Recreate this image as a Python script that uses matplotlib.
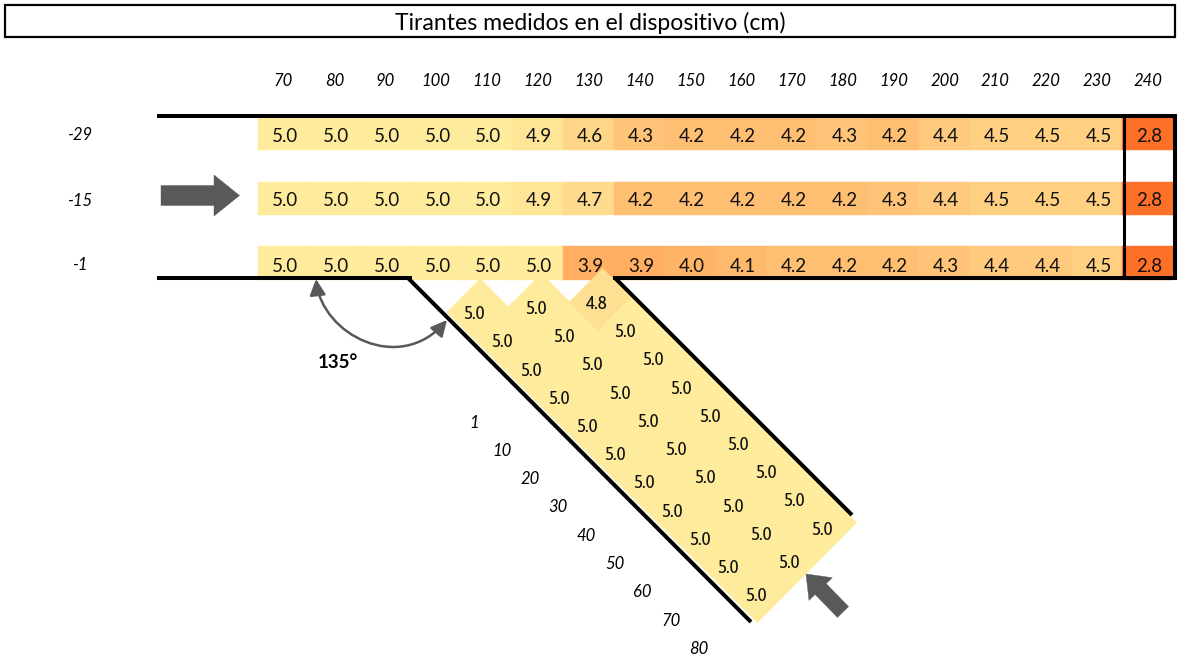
import matplotlib
matplotlib.use("Agg")
import matplotlib.pyplot as plt
from matplotlib.colors import LinearSegmentedColormap, Normalize
from matplotlib.patches import FancyArrow, FancyArrowPatch, Polygon, Rectangle
from matplotlib.path import Path
from numpy import array

plt.rcParams['font.family'] = ['Lato', 'DejaVu Sans']

dist_labels = [70, 80, 90, 100, 110, 120, 130, 140, 150, 160, 170, 180, 190, 200, 210, 220, 230, 240]
row_labels = [-29, -15, -1]
row_29 = [5.0, 5.0, 5.0, 5.0, 5.0, 4.9, 4.6, 4.3, 4.2, 4.2, 4.2, 4.3, 4.2, 4.4, 4.5, 4.5, 4.5, 2.8]
row_15 = [5.0, 5.0, 5.0, 5.0, 5.0, 4.9, 4.7, 4.2, 4.2, 4.2, 4.2, 4.2, 4.3, 4.4, 4.5, 4.5, 4.5, 2.8]
row_1 = [5.0, 5.0, 5.0, 5.0, 5.0, 5.0, 3.9, 3.9, 4.0, 4.1, 4.2, 4.2, 4.2, 4.3, 4.4, 4.4, 4.5, 2.8]

branch_labels = [1, 10, 20, 30, 40, 50, 60, 70, 80]
branch_a = [5.0, 5.0, 5.0, 5.0, 5.0, 5.0, 5.0, 5.0, 5.0, 5.0, 5.0]
branch_b = [5.0, 5.0, 5.0, 5.0, 5.0, 5.0, 5.0, 5.0, 5.0, 5.0]
branch_c = [4.8, 5.0, 5.0, 5.0, 5.0, 5.0, 5.0, 5.0, 5.0]

# everything is laid out in picture pixels
cell_w = 50.85
first_x = 259.5
row_tops = [118, 181.5, 246]
row_h = [32, 33.5, 34]
row_text_y = [136, 201, 266]
along = array([14.1, 14.1])
across = array([16.5, -16.65])
branch_start = [(477.8, 309.7), (539, 304.6), (600.2, 299.5)]

wall = 'black'
grey = '#595959'
cmap = LinearSegmentedColormap.from_list('tirante', ['#FF7128', '#FFEB9C'])
norm = Normalize(2.8, 5.0)

fig = plt.figure(figsize=(11.8, 6.6), dpi=100)
ax = fig.add_axes([0, 0, 1, 1])
ax.set_xlim(0, 1180)
ax.set_ylim(660, 0)
ax.axis('off')

# title box
ax.add_patch(Rectangle((4.5, 4.5), 1170.5, 32.5, fc='white', ec='black', lw=1.6))
ax.text(590, 23, 'Tirantes medidos en el dispositivo (cm)', ha='center', va='center', fontsize=16.6)

for i, d in enumerate(dist_labels):
    ax.text(first_x + 24 + cell_w * i, 81.5, str(d), ha='center', va='center', fontsize=12, style='italic')

for top, h, ty, label, values in zip(row_tops, row_h, row_text_y, row_labels, [row_29, row_15, row_1]):
    ax.text(80, ty - 0.5, str(label), ha='center', va='center', fontsize=12, style='italic')
    for i, v in enumerate(values):
        c = cmap(norm(v))
        ax.add_patch(Rectangle((first_x - 1.5 + cell_w * i, top), cell_w, h, fc=c, ec=c, lw=0.3, zorder=1))
        ax.text(first_x + 25.5 + cell_w * i, ty, '%.1f' % v, ha='center', va='center',
                fontsize=13.5, color='#111111', zorder=5)

# inclined branch, cells turned 45 degrees
for start, values in zip(branch_start, [branch_a, branch_b, branch_c]):
    for k, v in enumerate(values):
        centre = array(start) + 2 * along * k
        corners = [centre - along - across, centre - along + across, centre + along + across, centre + along - across]
        c = cmap(norm(v))
        ax.add_patch(Polygon(corners, closed=True, fc=c, ec=c, lw=0.6, zorder=2 + (v != 5.0)))
        ax.text(centre[0] - 3.5, centre[1] + 4.5, '%.1f' % v, ha='center', va='center', fontsize=14,
                family=['Asap Condensed', 'Lato'], color='#111111', zorder=5)

for k, d in enumerate(branch_labels):
    ax.text(474 + 28.1 * k, 422.5 + 28.3 * k, str(d), ha='center', va='center', fontsize=12, style='italic')

# walls
lw = 2.9
ax.plot([157, 1176], [116, 116], color=wall, lw=lw, solid_capstyle='butt', zorder=4)
ax.plot([157, 412], [278, 278], color=wall, lw=lw, solid_capstyle='butt', zorder=4)
ax.plot([613, 1176], [278, 278], color=wall, lw=lw, solid_capstyle='butt', zorder=4)
ax.plot([1175, 1175], [114, 280], color=wall, lw=lw, solid_capstyle='butt', zorder=4)
ax.plot([1123.5, 1123.5], [116, 278], color=wall, lw=2.2, solid_capstyle='butt', zorder=4)
ax.plot([408, 751], [278, 622], color=wall, lw=lw, solid_capstyle='butt', zorder=4)
ax.plot([615, 852], [278, 515], color=wall, lw=lw, solid_capstyle='butt', zorder=4)

# flow arrows
ax.add_patch(FancyArrow(161, 195.5, 78.5, 0, width=20, head_width=41, head_length=25.5,
                        length_includes_head=True, fc=grey, ec=grey, lw=0.3, zorder=4))
ax.add_patch(FancyArrow(843, 612, -37, -38, width=15.5, head_width=32.5, head_length=21,
                        length_includes_head=True, fc=grey, ec=grey, lw=0.3, zorder=4))

# angle between walls
angle_path = Path([(316, 279), (322, 335), (400, 375), (447, 320)],
                  [Path.MOVETO, Path.CURVE4, Path.CURVE4, Path.CURVE4])
ax.add_patch(FancyArrowPatch(path=angle_path, arrowstyle='<|-|>', mutation_scale=24,
                             color=grey, lw=1.8, zorder=4))
ax.text(338, 362.5, '135°', ha='center', va='center', fontsize=13.5, fontweight='bold')

fig.savefig('out.png', dpi=100)
